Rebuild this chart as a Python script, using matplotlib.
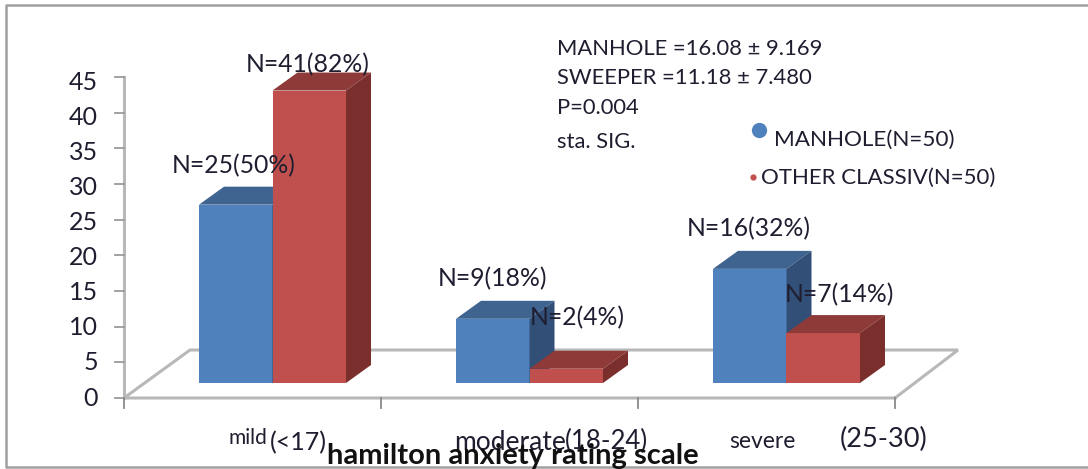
import matplotlib
matplotlib.use("Agg")
import matplotlib.pyplot as plt
from matplotlib.patches import Polygon

plt.rcParams['font.family'] = ['Lato', 'DejaVu Sans']

cat_names = ["mild", "moderate", "severe"]
cat_ranges = ["(<17)", "(18-24)", "(25-30)"]
manhole = [25, 9, 16]
other = [41, 2, 7]
manhole_labels = ["N=25(50%)", "N=9(18%)", "N=16(32%)"]
other_labels = ["N=41(82%)", "N=2(4%)", "N=7(14%)"]
yticks = [0, 5, 10, 15, 20, 25, 30, 35, 40, 45]

W, H = 1088, 469
# axes fills the figure, limits chosen so x=0..3 and y=0..45 land on the chart axes
px_x = (895 - 124) / 3
px_y = (398 - 77) / 45

fig = plt.figure(figsize=(W / 100, H / 100), dpi=100)
ax = fig.add_axes([0, 0, 1, 1])
ax.set_xlim(-124 / px_x, (W - 124) / px_x)
ax.set_ylim(-(H - 398) / px_y, 398 / px_y)
ax.axis("off")


def dx(p):
    return p / px_x


def dy(p):
    return p / px_y


def at(px, py):
    # picture pixels to data, only for the loose text placed by hand
    return (px - 124) / px_x, (398 - py) / px_y


GREY = "#b8b8b8"
BLUE = ("#4f81bd", "#3f648f", "#324f77")
RED = ("#c0504d", "#8e3a38", "#7a2f2d")
TXT = "#1e1e30"

# floor of the 3d box
floor_x = [3, 0, dx(66), 3 + dx(63), 3]
floor_y = [0, 0, dy(48), dy(48), 0]
ax.plot(floor_x, floor_y, color=GREY, lw=2.2, solid_joinstyle="miter", zorder=1)

# y axis with ticks, labels sit a bit lower than the ticks in the original
ax.plot([0, 0], [0, 45], color=GREY, lw=2.2, zorder=1)
for t in yticks:
    ax.plot([-dx(9), 0], [t, t], color="#9a9a9a", lw=1.3, zorder=1)
    ax.text(-dx(26), t - dy(5.5 * t / 45), str(t), ha="right", va="center", fontsize=18, color=TXT)

# x ticks below the floor
for t in range(4):
    ax.plot([t, t], [0, -dy(10)], color="#8a8a8a", lw=1.3, zorder=1)

base = dy(15)
bar_w = dx(73.5)
depth_x = dx(25)
depth_y = dy(18)


def bar3d(left, value, cols, z):
    top = base + value
    ax.bar(left, value, width=bar_w, bottom=base, align="edge", color=cols[0], zorder=z)
    ax.add_patch(Polygon([(left, top), (left + bar_w, top),
                          (left + bar_w + depth_x, top + depth_y),
                          (left + depth_x, top + depth_y)], color=cols[1], lw=0, zorder=z))
    ax.add_patch(Polygon([(left + bar_w, base), (left + bar_w + depth_x, base + depth_y),
                          (left + bar_w + depth_x, top + depth_y),
                          (left + bar_w, top)], color=cols[2], lw=0, zorder=z))


for i in range(3):
    left = i + dx(75)
    bar3d(left, manhole[i], BLUE, 2 + i)
    bar3d(left + bar_w, other[i], RED, 2.5 + i)

# labels above the bars, they were placed by hand in the original
blue_pos = [(172, 166), (438, 279), (687, 229)]
red_pos = [(246, 65), (530, 318), (785, 295)]
for i in range(3):
    ax.text(*at(*blue_pos[i]), manhole_labels[i], ha="left", va="center",
            fontsize=17.8, color=TXT, zorder=10)
    ax.text(*at(*red_pos[i]), other_labels[i], ha="left", va="center",
            fontsize=17.8, color=TXT, zorder=10)

# category labels come in two sizes in the original
name_pos = [(228, 438), (454, 442), (729, 441)]
name_size = [15, 19, 16.5]
range_pos = [(270, 443), (565, 441), (840, 439)]
range_size = [18, 18.5, 19.5]
for i in range(3):
    ax.text(*at(*name_pos[i]), cat_names[i], ha="left", va="center",
            fontsize=name_size[i], color=TXT)
    ax.text(*at(*range_pos[i]), cat_ranges[i], ha="left", va="center",
            fontsize=range_size[i], color=TXT)

ax.text(*at(327, 456), "hamilton anxiety rating scale", ha="left", va="center",
        fontsize=21, fontweight="bold", color="#111111", zorder=11)

# stats block
stats = ["MANHOLE =16.08 ± 9.169", "SWEEPER =11.18 ± 7.480", "P=0.004", "sta. SIG."]
stats_y = [49, 78, 108, 142]
for s, sy in zip(stats, stats_y):
    ax.text(*at(557, sy), s, ha="left", va="center", fontsize=15.8, color=TXT)

# legend, drawn loose in the original
ax.plot(*at(759, 130), "o", ms=11, color=BLUE[0], mew=0)
ax.text(*at(774, 140), "MANHOLE(N=50)", ha="left", va="center", fontsize=16.2, color=TXT)
ax.plot(*at(753, 177), "o", ms=4.5, color=RED[0], mew=0)
ax.text(*at(761, 178), "OTHER CLASSIV(N=50)", ha="left", va="center", fontsize=16, color=TXT)

# chart frame, cropped on the right
corners = [at(1088, 5), at(6, 5), at(6, 467), at(1088, 467)]
ax.plot([c[0] for c in corners], [c[1] for c in corners], color="#a0a0a0", lw=1.8, zorder=0)

fig.savefig("out.png", dpi=100)
